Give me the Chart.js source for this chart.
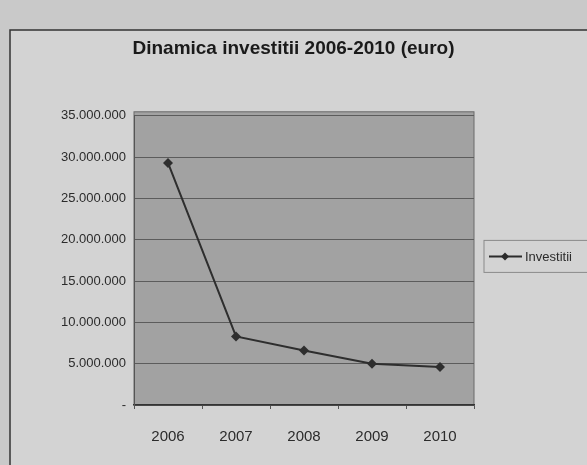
<!DOCTYPE html>
<html>
<head>
<meta charset="utf-8">
<script src="https://cdn.jsdelivr.net/npm/chart.js@4.4.1/dist/chart.umd.min.js"></script>
<style>
  html, body { margin: 0; padding: 0; background: #c9c9c9; overflow: hidden; }
  #wrap { width: 587px; height: 465px; position: relative; }
</style>
</head>
<body>
<div id="wrap"><canvas id="chart" width="587" height="465"></canvas></div>
<script>
/* Dinamica investitii 2006-2010 - line chart */
const years = ['2006', '2007', '2008', '2009', '2010'];
const investitii = [29300000, 8300000, 6600000, 5000000, 4600000];
const seriesName = 'Investitii';
const chartTitle = 'Dinamica investitii 2006-2010 (euro)';

const TEXT = '#2b2b2b';
const GRID = '#5c5c5c';
const FONT = '"Liberation Sans", Arial, sans-serif';

// thousands with dots, zero as dash (accounting style)
function fmt(v) {
    if (v === 0) return '-';
    return String(v).replace(/\B(?=(\d{3})+(?!\d))/g, '.');
}

const backdrop = {
    id: 'backdrop',
    beforeDraw(chart) {
        const { ctx, chartArea: a } = chart;
        ctx.save();
        // chart sheet with outline
        ctx.fillStyle = '#d3d3d3';
        ctx.fillRect(10, 30, 600, 460);
        ctx.strokeStyle = '#333';
        ctx.lineWidth = 1.5;
        ctx.strokeRect(10, 30, 600, 460);
        // plot area
        ctx.fillStyle = '#a2a2a2';
        ctx.fillRect(a.left, a.top - 4, a.right - a.left, a.bottom - a.top + 4);
        ctx.strokeStyle = '#6a6a6a';
        ctx.lineWidth = 1;
        ctx.strokeRect(a.left, a.top - 4, a.right - a.left, a.bottom - a.top + 4);
        ctx.restore();
    },
    afterDraw(chart) {
        const { ctx, chartArea: a } = chart;
        const ds = chart.data.datasets[0];
        const x = a.right + 10, y = (a.top + a.bottom) / 2 - 4;
        ctx.save();
        ctx.strokeStyle = '#8a8a8a';
        ctx.lineWidth = 1;
        ctx.strokeRect(x, y - 16, 140, 32);
        ctx.strokeStyle = TEXT;
        ctx.lineWidth = 2;
        ctx.beginPath();
        ctx.moveTo(x + 5, y);
        ctx.lineTo(x + 38, y);
        ctx.stroke();
        ctx.fillStyle = TEXT;
        ctx.beginPath();
        ctx.moveTo(x + 21, y - 4);
        ctx.lineTo(x + 25, y);
        ctx.lineTo(x + 21, y + 4);
        ctx.lineTo(x + 17, y);
        ctx.closePath();
        ctx.fill();
        ctx.font = '13px ' + FONT;
        ctx.textBaseline = 'middle';
        ctx.fillText(ds.label, x + 41, y + 1);
        ctx.restore();
    }
};

new Chart(document.getElementById('chart'), {
    type: 'line',
    data: {
        labels: years,
        datasets: [{
            label: seriesName,
            data: investitii,
            borderColor: '#2e2e2e',
            backgroundColor: '#2e2e2e',
            borderWidth: 2,
            tension: 0,
            pointStyle: 'rectRot',
            pointRadius: 5,
            pointBorderWidth: 0,
        }]
    },
    options: {
        responsive: false,
        animation: false,
        layout: { padding: 0 },
        plugins: {
            legend: { display: false },
            tooltip: { enabled: false },
            title: {
                display: true,
                text: chartTitle,
                color: '#1a1a1a',
                font: { family: FONT, size: 19, weight: 'bold' },
                padding: { top: 37, bottom: 56 },
            }
        },
        scales: {
            x: {
                offset: true,
                grid: { display: true, drawOnChartArea: false, color: '#555', tickLength: 4, offset: true },
                border: { color: '#333', width: 1.5 },
                ticks: { color: TEXT, padding: 19, font: { family: FONT, size: 15 } },
                afterFit(scale) { scale.height = 60; },
            },
            y: {
                min: 0,
                max: 35000000,
                grid: { color: GRID, lineWidth: 1, drawTicks: false },
                border: { color: '#555' },
                ticks: {
                    stepSize: 5000000,
                    padding: 8,
                    color: TEXT,
                    font: { family: FONT, size: 13 },
                    callback: v => fmt(v),
                },
                afterFit(scale) { scale.width = 134; },
            },
            // empty right-hand axis reserving room for the legend
            legendRoom: {
                position: 'right',
                min: 0,
                max: 1,
                grid: { display: false },
                border: { display: false },
                ticks: { display: false },
                afterFit(scale) { scale.width = 113; },
            }
        }
    },
    plugins: [backdrop]
});
</script>
</body>
</html>
